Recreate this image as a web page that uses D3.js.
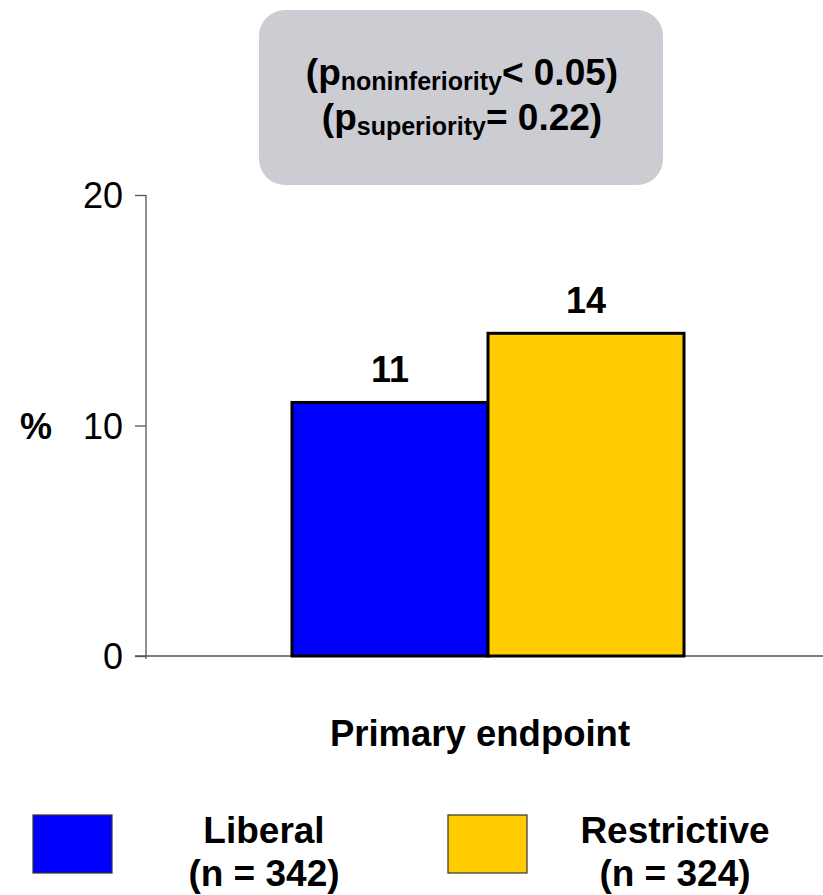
<!DOCTYPE html>
<html>
<head>
<meta charset="utf-8">
<script src="https://cdn.jsdelivr.net/npm/d3@7"></script>
<style>
  html, body { margin: 0; padding: 0; background: #fff; }
  svg { display: block; font-family: "Liberation Sans", Arial, Helvetica, sans-serif; }
</style>
</head>
<body>
<svg id="chart" width="823" height="895"></svg>
<script>
// Primary endpoint rate (%) by transfusion strategy
const groups = ["Liberal", "Restrictive"];
const groupSizes = ["(n = 342)", "(n = 324)"];
const values = [11, 14];
const colors = ["#0000ff", "#ffcc00"];
const yTicks = [0, 10, 20];
const category = "Primary endpoint";
const pLines = [
  { sub: "noninferiority", rest: "< 0.05)" },
  { sub: "superiority", rest: "= 0.22)" }
];

const svg = d3.select("#chart");

// Scales
const y = d3.scaleLinear().domain([0, 20]).range([656, 195]);
const x = d3.scaleBand().domain(groups).range([292, 684]).padding(0);

// p-value panel
const panel = svg.append("g");
panel.append("rect")
  .attr("x", 259).attr("y", 10)
  .attr("width", 404).attr("height", 175)
  .attr("rx", 26).attr("ry", 26)
  .attr("fill", "#cccdd2");

const lineBase = [85, 130];
const panelCx = 462;
pLines.forEach((ln, i) => {
  const t = panel.append("text")
    .attr("y", lineBase[i])
    .attr("font-weight", "bold")
    .attr("font-size", 37)
    .attr("fill", "#000");
  t.append("tspan").text("(p");
  t.append("tspan").attr("font-size", 25).attr("dy", 5).text(ln.sub);
  t.append("tspan").attr("dy", -5).text(ln.rest);
  const w = t.node().getComputedTextLength();
  t.attr("x", panelCx - w / 2);
});

// Axes
const yAxis = d3.axisLeft(y).tickValues(yTicks).tickSize(11).tickPadding(12).tickFormat(d3.format("d"));
const yG = svg.append("g").attr("transform", "translate(146,0)").call(yAxis);
yG.select(".domain").remove();
yG.append("line")
  .attr("x1", 0).attr("x2", 0).attr("y1", y(20)).attr("y2", y(0) + 3)
  .attr("stroke", "#555").attr("stroke-width", 1.3);
yG.selectAll(".tick line").attr("stroke", "#555").attr("stroke-width", 1.3);
yG.selectAll(".tick text")
  .attr("font-size", 36)
  .attr("font-family", "Liberation Sans, Arial, sans-serif")
  .attr("fill", "#000")
  .attr("dy", "0.36em");

svg.append("line")
  .attr("x1", 135).attr("x2", 823)
  .attr("y1", y(0)).attr("y2", y(0))
  .attr("stroke", "#555").attr("stroke-width", 1.3);

svg.append("text")
  .attr("x", 20).attr("y", 439)
  .attr("font-size", 36).attr("font-weight", "bold")
  .text("%");

// Bars
const data = groups.map((g, i) => ({ group: g, value: values[i], color: colors[i] }));
svg.append("g").selectAll("rect")
  .data(data).join("rect")
  .attr("x", d => x(d.group))
  .attr("y", d => y(d.value))
  .attr("width", x.bandwidth())
  .attr("height", d => y(0) - y(d.value))
  .attr("fill", d => d.color)
  .attr("stroke", "#000")
  .attr("stroke-width", 3);

svg.append("g").selectAll("text")
  .data(data).join("text")
  .attr("x", d => x(d.group) + x.bandwidth() / 2)
  .attr("y", d => y(d.value) - 20)
  .attr("text-anchor", "middle")
  .attr("font-size", 36).attr("font-weight", "bold")
  .text(d => d.value);

// Category label
svg.append("text")
  .attr("x", 480).attr("y", 746)
  .attr("text-anchor", "middle")
  .attr("font-size", 36.5).attr("font-weight", "bold")
  .text(category);

// Legend
const legendSwatchX = [33, 448];
const legendTextX = [264, 675];
groups.forEach((g, i) => {
  svg.append("rect")
    .attr("x", legendSwatchX[i]).attr("y", 815)
    .attr("width", 79).attr("height", 58)
    .attr("fill", colors[i])
    .attr("stroke", "#333").attr("stroke-width", 1.2);
  svg.append("text")
    .attr("x", legendTextX[i]).attr("y", 843)
    .attr("text-anchor", "middle")
    .attr("font-size", 37).attr("font-weight", "bold")
    .text(g);
  svg.append("text")
    .attr("x", legendTextX[i]).attr("y", 886)
    .attr("text-anchor", "middle")
    .attr("font-size", 37).attr("font-weight", "bold")
    .text(groupSizes[i]);
});
</script>
</body>
</html>
